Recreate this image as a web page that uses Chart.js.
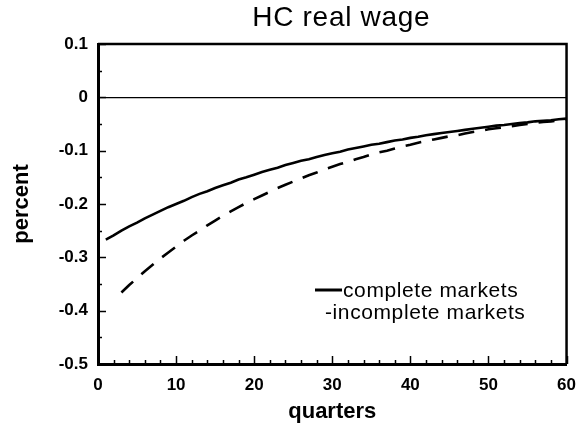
<!DOCTYPE html>
<html>
<head>
<meta charset="utf-8">
<script src="https://cdn.jsdelivr.net/npm/chart.js@4.4.1/dist/chart.umd.min.js"></script>
<style>
  html, body { margin: 0; padding: 0; background: #fff; }
  #wrap { width: 587px; height: 428px; }
</style>
</head>
<body>
<div id="wrap"><canvas id="c" width="587" height="428"></canvas></div>
<script>
// ---- data ----
const quarters = [1,2,3,4,5,6,7,8,9,10,11,12,13,14,15,16,17,18,19,20,
  21,22,23,24,25,26,27,28,29,30,31,32,33,34,35,36,37,38,39,40,
  41,42,43,44,45,46,47,48,49,50,51,52,53,54,55,56,57,58,59,60];
const completeMarkets = [-0.267,-0.259,-0.250,-0.242,-0.235,-0.227,-0.220,-0.213,-0.206,-0.200,
  -0.194,-0.187,-0.181,-0.176,-0.170,-0.165,-0.160,-0.154,-0.150,-0.145,
  -0.140,-0.136,-0.132,-0.127,-0.123,-0.119,-0.116,-0.112,-0.108,-0.105,
  -0.102,-0.098,-0.095,-0.092,-0.089,-0.087,-0.084,-0.081,-0.079,-0.076,
  -0.074,-0.071,-0.069,-0.067,-0.065,-0.063,-0.061,-0.059,-0.057,-0.055,
  -0.053,-0.052,-0.050,-0.048,-0.047,-0.045,-0.044,-0.043,-0.041,-0.040];
const incompleteMarkets = [null,null,-0.366,-0.352,-0.339,-0.326,-0.314,-0.302,-0.291,-0.280,
  -0.269,-0.259,-0.250,-0.240,-0.231,-0.222,-0.214,-0.206,-0.198,-0.191,
  -0.184,-0.177,-0.170,-0.164,-0.158,-0.152,-0.146,-0.141,-0.135,-0.130,
  -0.125,-0.121,-0.116,-0.112,-0.107,-0.103,-0.100,-0.096,-0.092,-0.089,
  -0.085,-0.082,-0.079,-0.076,-0.073,-0.071,-0.068,-0.065,-0.063,-0.060,
  -0.058,-0.056,-0.054,-0.052,-0.050,-0.048,-0.046,-0.045,-0.043,-0.041];
const seriesNames = ['complete markets', 'incomplete markets'];
const xTickValues = [0,10,20,30,40,50,60];
const yTickValues = [0.1,0,-0.1,-0.2,-0.3,-0.4,-0.5];
const yTickLabels = ['0.1','0','-0.1','-0.2','-0.3','-0.4','-0.5'];
const chartTitle = 'HC real wage';
const xTitle = 'quarters';
const yTitle = 'percent';

const FONT = "'Liberation Sans', Arial, Helvetica, sans-serif";

function toPoints(vals) {
  return quarters.map((q, i) => ({ x: q, y: vals[i] }));
}

const decor = {
  id: 'decor',
  afterDraw(chart) {
    const { ctx, chartArea: a, scales } = chart;
    const xs = scales.x, ys = scales.y;
    ctx.save();
    ctx.strokeStyle = '#000';
    ctx.fillStyle = '#000';
    // frame top and right
    ctx.lineWidth = 2.5;
    ctx.beginPath();
    ctx.moveTo(a.left, a.top); ctx.lineTo(a.right, a.top); ctx.lineTo(a.right, a.bottom);
    ctx.stroke();
    // inward ticks
    ctx.lineWidth = 1.5;
    for (let v = -0.5; v <= 0.1001; v += 0.05) {
      const major = Math.abs(Math.round(v * 10) - v * 10) < 1e-6;
      const py = Math.round(ys.getPixelForValue(v)) + 0.5;
      ctx.beginPath();
      ctx.moveTo(a.left, py); ctx.lineTo(a.left + (major ? 8 : 4), py);
      ctx.stroke();
    }
    for (let q = 0; q <= 60; q += 2) {
      const major = q % 10 === 0;
      const px = Math.round(xs.getPixelForValue(q)) + 0.5;
      ctx.beginPath();
      ctx.moveTo(px, a.bottom); ctx.lineTo(px, a.bottom - (major ? 8 : 4));
      ctx.stroke();
    }
    // title
    ctx.font = '28px ' + FONT;
    ctx.letterSpacing = '0.7px';
    ctx.textAlign = 'center';
    ctx.textBaseline = 'alphabetic';
    ctx.fillText(chartTitle, (a.left + a.right) / 2 + 9, 26);
    // legend
    ctx.lineWidth = 3;
    ctx.beginPath();
    ctx.moveTo(315, 290); ctx.lineTo(342, 290);
    ctx.stroke();
    ctx.font = '21px ' + FONT;
    ctx.letterSpacing = '0.6px';
    ctx.textAlign = 'left';
    ctx.fillText(seriesNames[0], 343, 297);
    ctx.fillText('-' + seriesNames[1], 325, 319);
    ctx.restore();
  }
};

new Chart(document.getElementById('c'), {
  type: 'line',
  data: {
    datasets: [
      { label: seriesNames[0], data: toPoints(completeMarkets), borderColor: '#000',
        borderWidth: 2.6, pointRadius: 0, tension: 0, fill: false, spanGaps: false },
      { label: seriesNames[1], data: toPoints(incompleteMarkets), borderColor: '#000',
        borderWidth: 2.6, borderDash: [16, 11], pointRadius: 0, tension: 0, fill: false }
    ]
  },
  options: {
    responsive: false,
    animation: false,
    events: [],
    layout: { padding: { top: 44, right: 12, bottom: 0, left: 0 } },
    plugins: { legend: { display: false }, tooltip: { enabled: false }, title: { display: false } },
    scales: {
      x: {
        type: 'linear', min: 0, max: 60,
        afterFit(s) { s.height = 64; },
        afterBuildTicks(s) { s.ticks = xTickValues.map(v => ({ value: v })); },
        ticks: { color: '#000', padding: 11, maxRotation: 0, font: { family: FONT, size: 17, weight: 'bold' },
          callback: v => String(v) },
        grid: { display: false, drawTicks: false },
        border: { display: true, color: '#000', width: 3 },
        title: { display: true, text: xTitle, color: '#000', padding: { top: 0, bottom: 3 },
          font: { family: FONT, size: 22, weight: 'bold' } }
      },
      y: {
        type: 'linear', min: -0.5, max: 0.1,
        afterFit(s) { s.width = 98; },
        afterBuildTicks(s) { s.ticks = yTickValues.map(v => ({ value: v })); },
        ticks: { color: '#000', padding: 10, font: { family: FONT, size: 17, weight: 'bold' },
          callback: (v) => { const i = yTickValues.findIndex(t => Math.abs(t - v) < 1e-9); return i >= 0 ? yTickLabels[i] : ''; } },
        grid: { display: true, drawTicks: false, drawOnChartArea: true, lineWidth: 1.2,
          color: c => (c.tick && Math.abs(c.tick.value) < 1e-9) ? '#000' : 'rgba(0,0,0,0)' },
        border: { display: true, color: '#000', width: 3 },
        title: { display: true, text: yTitle, color: '#000', padding: { top: 9, bottom: 0 },
          font: { family: FONT, size: 22, weight: 'bold' } }
      }
    }
  },
  plugins: [decor]
});
</script>
</body>
</html>
